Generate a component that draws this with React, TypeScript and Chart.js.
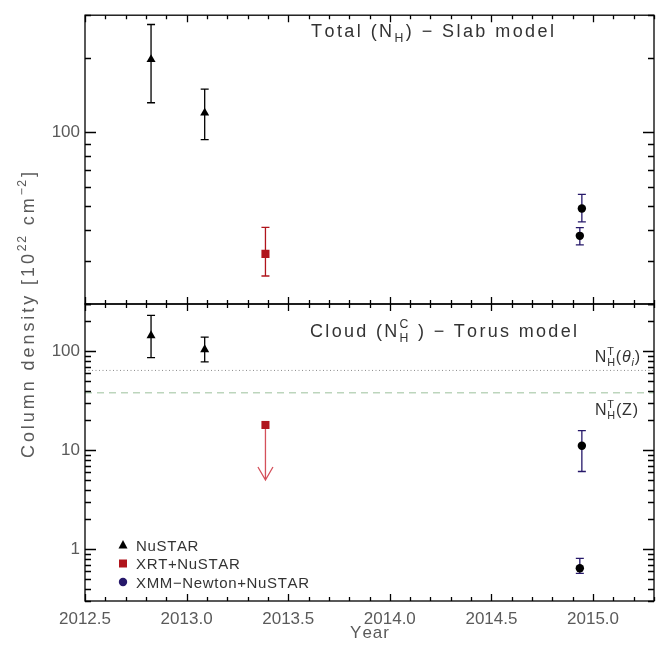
import React, { useEffect, useRef } from "react";
import { Chart, registerables } from "chart.js";
Chart.register(...registerables);

// ---------- data ----------
const xTickValues = [2012.5, 2013.0, 2013.5, 2014.0, 2014.5, 2015.0];
const xTickLabels = ["2012.5", "2013.0", "2013.5", "2014.0", "2014.5", "2015.0"];
const topYTicks = [100];
const bottomYTicks = [1, 10, 100];

// NuSTAR
const nustarYear = [2012.825, 2013.089];
const nustarSlab = [198, 120];
const nustarSlabLow = [132, 93.5];
const nustarSlabHigh = [275, 150];
const nustarCloud = [144, 104];
const nustarCloudLow = [86, 78];
const nustarCloudHigh = [230, 139];

// XRT+NuSTAR
const xrtYear = [2013.388];
const xrtSlab = [32];
const xrtSlabLow = [26];
const xrtSlabHigh = [41];
const xrtCloudUpper = [18];
const xrtCloudArrowTo = [5];

// XMM-Newton+NuSTAR
const xmmYear = [2014.945, 2014.935];
const xmmSlab = [49, 37.9];
const xmmSlabLow = [43.2, 34.8];
const xmmSlabHigh = [55.9, 40.9];
const xmmCloud = [11.1, 0.642];
const xmmCloudLow = [6.1, 0.571];
const xmmCloudHigh = [15.8, 0.81];

// Torus reference column densities
const torusThetaNH = 64;
const torusZNH = 38;

// ---------- styles ----------
const FONT = '"Liberation Sans", Arial, sans-serif';
const X_MIN = 2012.5;
const X_MAX = 2015.3;
const X_MINOR = 0.1;
const RED = "#b0141c";
const ARROW_RED = "#d4505a";
const NAVY = "#26186a";
const LABEL_GREY = "#5a5a5a";

type Seg = { t?: string; sub?: string; sup?: string; italic?: boolean };

function setFont(ctx: CanvasRenderingContext2D, size: number, italic?: boolean) {
  ctx.font = `${italic ? "italic " : ""}${size}px ${FONT}`;
}

function layoutRich(ctx: CanvasRenderingContext2D, segs: Seg[], size: number, sp: number) {
  const ops: { ch: string; x: number; dy: number; size: number; italic?: boolean }[] = [];
  let x = 0;
  for (const s of segs) {
    if (s.t) {
      for (const ch of s.t) {
        setFont(ctx, size, s.italic);
        const w = ctx.measureText(ch).width;
        ops.push({ ch, x, dy: 0, size, italic: s.italic });
        x += w + sp;
      }
    }
    if (s.sub || s.sup) {
      const ss = size * 0.68;
      let wmax = 0;
      const parts: [string | undefined, number][] = [
        [s.sub, size * 0.28],
        [s.sup, -size * 0.45],
      ];
      for (const [txt, dy] of parts) {
        if (!txt) continue;
        let xx = x;
        for (const ch of txt) {
          setFont(ctx, ss, s.italic);
          const w = ctx.measureText(ch).width;
          ops.push({ ch, x: xx, dy, size: ss, italic: s.italic });
          xx += w + sp * 0.5;
        }
        wmax = Math.max(wmax, xx - x);
      }
      x += wmax + sp * 0.5;
    }
  }
  return { ops, width: x - sp };
}

function fitSpacing(ctx: CanvasRenderingContext2D, segs: Seg[], size: number, target: number) {
  const w0 = layoutRich(ctx, segs, size, 0).width;
  const w1 = layoutRich(ctx, segs, size, 1).width;
  return Math.max(0, (target - w0) / (w1 - w0));
}

function drawRich(
  ctx: CanvasRenderingContext2D,
  segs: Seg[],
  x: number,
  y: number,
  size: number,
  color: string,
  sp: number,
  align: "left" | "center" | "right" = "left"
) {
  const { ops, width } = layoutRich(ctx, segs, size, sp);
  const x0 = align === "left" ? x : align === "center" ? x - width / 2 : x - width;
  ctx.save();
  ctx.fillStyle = color;
  ctx.textBaseline = "alphabetic";
  ctx.textAlign = "left";
  for (const o of ops) {
    setFont(ctx, o.size, o.italic);
    ctx.fillText(o.ch, x0 + o.x, y + o.dy);
  }
  ctx.restore();
}

// ---------- plugins ----------
const errorBarsPlugin = {
  id: "errorBars",
  beforeDatasetsDraw(chart: any) {
    const { ctx, scales } = chart;
    const xs = scales.x;
    const ys = scales.y;
    ctx.save();
    chart.data.datasets.forEach((ds: any) => {
      if (ds.errLow && ds.errHigh) {
        ctx.strokeStyle = ds.errColor;
        ctx.lineWidth = 1.3;
        ds.data.forEach((p: any, i: number) => {
          const x = xs.getPixelForValue(p.x);
          const yl = ys.getPixelForValue(ds.errLow[i]);
          const yh = ys.getPixelForValue(ds.errHigh[i]);
          ctx.beginPath();
          ctx.moveTo(x, yl);
          ctx.lineTo(x, yh);
          ctx.moveTo(x - 4, yl);
          ctx.lineTo(x + 4, yl);
          ctx.moveTo(x - 4, yh);
          ctx.lineTo(x + 4, yh);
          ctx.stroke();
        });
      }
      if (ds.arrowTo) {
        ctx.strokeStyle = ds.arrowColor;
        ctx.lineWidth = 1.3;
        ds.data.forEach((p: any, i: number) => {
          const x = xs.getPixelForValue(p.x);
          const y0 = ys.getPixelForValue(p.y);
          const y1 = ys.getPixelForValue(ds.arrowTo[i]);
          ctx.beginPath();
          ctx.moveTo(x, y0);
          ctx.lineTo(x, y1);
          ctx.moveTo(x - 7.5, y1 - 13);
          ctx.lineTo(x, y1);
          ctx.lineTo(x + 7.5, y1 - 13);
          ctx.stroke();
        });
      }
    });
    ctx.restore();
  },
};

const framePlugin = {
  id: "frame",
  afterDraw(chart: any) {
    const { ctx, chartArea: a, scales } = chart;
    const xs = scales.x;
    const ys = scales.y;
    ctx.save();
    ctx.strokeStyle = "#000";
    ctx.lineWidth = 1.3;
    ctx.strokeRect(a.left, a.top, a.right - a.left, a.bottom - a.top);
    ctx.beginPath();
    const n = Math.round((X_MAX - X_MIN) / X_MINOR);
    for (let i = 0; i <= n; i++) {
      const v = X_MIN + i * X_MINOR;
      const L = i % 5 === 0 ? 7 : 4;
      const px = Math.round(xs.getPixelForValue(v)) + 0.5;
      ctx.moveTo(px, a.bottom);
      ctx.lineTo(px, a.bottom - L);
      ctx.moveTo(px, a.top);
      ctx.lineTo(px, a.top + L);
    }
    const dMin = Math.floor(Math.log10(ys.min));
    const dMax = Math.ceil(Math.log10(ys.max));
    for (let d = dMin; d <= dMax; d++) {
      for (let m = 1; m <= 9; m++) {
        const v = m * Math.pow(10, d);
        if (v < ys.min * 0.999 || v > ys.max * 1.001) continue;
        const L = m === 1 ? 11 : 6;
        const py = Math.round(ys.getPixelForValue(v)) + 0.5;
        ctx.moveTo(a.left, py);
        ctx.lineTo(a.left + L, py);
        ctx.moveTo(a.right, py);
        ctx.lineTo(a.right - L, py);
      }
    }
    ctx.stroke();
    ctx.restore();
  },
};

const topTextPlugin = {
  id: "topText",
  afterDraw(chart: any) {
    const ctx = chart.ctx;
    const segs: Seg[] = [{ t: "Total (N", sub: "H" }, { t: ") − Slab model" }];
    const sp = fitSpacing(ctx, segs, 18, 243);
    drawRich(ctx, segs, 311, 36.5, 18, "#333", sp);
  },
};

const bottomTextPlugin = {
  id: "bottomText",
  afterDraw(chart: any) {
    const ctx = chart.ctx;
    // panel title
    const title: Seg[] = [{ t: "Cloud (N", sub: "H", sup: "C" }, { t: " ) − Torus model" }];
    const sp = fitSpacing(ctx, title, 18, 267);
    drawRich(ctx, title, 310, 336.5, 18, "#333", sp);

    // torus labels
    const l1: Seg[] = [{ t: "N", sub: "H", sup: "T" }, { t: "(" }, { t: "θ", italic: true, sub: "i" }, { t: ")" }];
    drawRich(ctx, l1, 640, 362, 16, "#333", 0.8, "right");
    const l2: Seg[] = [{ t: "N", sub: "H", sup: "T" }, { t: "(Z)" }];
    drawRich(ctx, l2, 638, 415, 16, "#333", 0.8, "right");

    // legend
    const leg: Seg[][] = [[{ t: "NuSTAR" }], [{ t: "XRT+NuSTAR" }], [{ t: "XMM−Newton+NuSTAR" }]];
    const lsp = fitSpacing(ctx, leg[2], 15, 173);
    const rows = [545, 563.5, 582];
    ctx.save();
    ctx.fillStyle = "#000";
    ctx.beginPath();
    ctx.moveTo(123, rows[0] - 5);
    ctx.lineTo(127.5, rows[0] + 3.5);
    ctx.lineTo(118.5, rows[0] + 3.5);
    ctx.closePath();
    ctx.fill();
    ctx.fillStyle = RED;
    ctx.fillRect(119, rows[1] - 4, 8, 8);
    ctx.fillStyle = NAVY;
    ctx.beginPath();
    ctx.arc(123, rows[2], 4.2, 0, Math.PI * 2);
    ctx.fill();
    ctx.restore();
    leg.forEach((s, i) => drawRich(ctx, s, 136, rows[i] + 5.5, 15, "#333", lsp));

    // x-axis title
    drawRich(ctx, [{ t: "Year" }], 369.5, 638, 17, LABEL_GREY, 1, "center");

    // y-axis title (spans both panels)
    const yt: Seg[] = [{ t: "Column density [10", sup: "22" }, { t: " cm", sup: "−2" }, { t: "]" }];
    const ysp = fitSpacing(ctx, yt, 18, 286);
    ctx.save();
    ctx.translate(34, 315);
    ctx.rotate(-Math.PI / 2);
    drawRich(ctx, yt, 0, 0, 18, LABEL_GREY, ysp, "center");
    ctx.restore();
  },
};

const tickFont = { family: FONT, size: 17 };

function yScale(min: number, max: number, ticks: number[]) {
  return {
    type: "logarithmic" as const,
    position: "left" as const,
    min,
    max,
    afterBuildTicks: (s: any) => {
      s.ticks = ticks.map((v) => ({ value: v }));
    },
    afterFit: (s: any) => {
      s.width = 85;
    },
    ticks: {
      callback: (v: any) => String(v),
      font: tickFont,
      color: LABEL_GREY,
      padding: 5,
      autoSkip: false,
    },
    grid: { display: false, drawTicks: false },
    border: { display: false },
  };
}

function pts(xs: number[], ys: number[]) {
  return xs.map((x, i) => ({ x, y: ys[i] }));
}

export default function App() {
  const topRef = useRef<HTMLCanvasElement>(null);
  const botRef = useRef<HTMLCanvasElement>(null);

  useEffect(() => {
    const common = {
      animation: false as const,
      responsive: false,
      events: [] as any[],
      plugins: { legend: { display: false }, tooltip: { enabled: false } },
    };

    const top = new Chart(topRef.current!, {
      type: "scatter",
      data: {
        datasets: [
          {
            label: "NuSTAR",
            data: pts(nustarYear, nustarSlab),
            pointStyle: "triangle",
            pointRadius: 5.2,
            backgroundColor: "#000",
            borderWidth: 0,
            errLow: nustarSlabLow,
            errHigh: nustarSlabHigh,
            errColor: "#000",
          } as any,
          {
            label: "XRT+NuSTAR",
            data: pts(xrtYear, xrtSlab),
            pointStyle: "rect",
            pointRadius: 5.7,
            backgroundColor: RED,
            borderWidth: 0,
            errLow: xrtSlabLow,
            errHigh: xrtSlabHigh,
            errColor: RED,
          } as any,
          {
            label: "XMM-Newton+NuSTAR",
            data: pts(xmmYear, xmmSlab),
            pointStyle: "circle",
            pointRadius: 4.2,
            backgroundColor: "#000",
            borderWidth: 0,
            errLow: xmmSlabLow,
            errHigh: xmmSlabHigh,
            errColor: NAVY,
          } as any,
        ],
      },
      options: {
        ...common,
        layout: { padding: { left: 0, top: 7, right: 14, bottom: 341 }, autoPadding: false },
        scales: {
          x: { type: "linear", min: X_MIN, max: X_MAX, display: false },
          y: yScale(20, 300, topYTicks) as any,
        },
      } as any,
      plugins: [errorBarsPlugin, framePlugin, topTextPlugin],
    });

    const bot = new Chart(botRef.current!, {
      type: "scatter",
      data: {
        datasets: [
          {
            label: "NuSTAR",
            data: pts(nustarYear, nustarCloud),
            pointStyle: "triangle",
            pointRadius: 5.2,
            backgroundColor: "#000",
            borderWidth: 0,
            errLow: nustarCloudLow,
            errHigh: nustarCloudHigh,
            errColor: "#000",
          } as any,
          {
            label: "XRT+NuSTAR",
            data: pts(xrtYear, xrtCloudUpper),
            pointStyle: "rect",
            pointRadius: 5.7,
            backgroundColor: RED,
            borderWidth: 0,
            arrowTo: xrtCloudArrowTo,
            arrowColor: ARROW_RED,
          } as any,
          {
            label: "XMM-Newton+NuSTAR",
            data: pts(xmmYear, xmmCloud),
            pointStyle: "circle",
            pointRadius: 4.2,
            backgroundColor: "#000",
            borderWidth: 0,
            errLow: xmmCloudLow,
            errHigh: xmmCloudHigh,
            errColor: NAVY,
          } as any,
          {
            type: "line",
            label: "NH torus theta",
            data: [
              { x: X_MIN, y: torusThetaNH },
              { x: X_MAX, y: torusThetaNH },
            ],
            showLine: true,
            pointRadius: 0,
            borderColor: "#8c8c8c",
            borderWidth: 1,
            borderDash: [1, 2.5],
          } as any,
          {
            type: "line",
            label: "NH torus Z",
            data: [
              { x: X_MIN, y: torusZNH },
              { x: X_MAX, y: torusZNH },
            ],
            showLine: true,
            pointRadius: 0,
            borderColor: "#9cc09c",
            borderWidth: 1,
            borderDash: [7, 5],
          } as any,
        ],
      },
      options: {
        ...common,
        layout: { padding: { left: 0, top: 304, right: 14, bottom: 0 }, autoPadding: false },
        scales: {
          x: {
            type: "linear",
            position: "bottom",
            min: X_MIN,
            max: X_MAX,
            afterBuildTicks: (s: any) => {
              s.ticks = xTickValues.map((v) => ({ value: v }));
            },
            afterFit: (s: any) => {
              s.height = 44;
            },
            ticks: {
              callback: (v: any) => {
                const i = xTickValues.indexOf(v);
                return i >= 0 ? xTickLabels[i] : "";
              },
              font: tickFont,
              color: LABEL_GREY,
              padding: 8,
              autoSkip: false,
              maxRotation: 0,
            },
            grid: { display: false, drawTicks: false },
            border: { display: false },
          },
          y: yScale(0.3, 300, bottomYTicks) as any,
        },
      } as any,
      plugins: [errorBarsPlugin, framePlugin, bottomTextPlugin],
    });

    return () => {
      top.destroy();
      bot.destroy();
    };
  }, []);

  const cs: React.CSSProperties = { position: "absolute", left: 0, top: 0, width: 668, height: 645 };
  return (
    <div style={{ position: "fixed", left: 0, top: 0, width: 668, height: 645, background: "#fff" }}>
      <canvas ref={topRef} width={668} height={645} style={cs} />
      <canvas ref={botRef} width={668} height={645} style={cs} />
    </div>
  );
}
